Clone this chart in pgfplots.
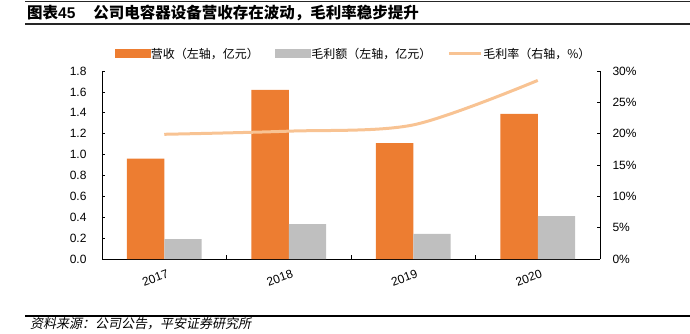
\documentclass[border=0pt]{standalone}
\usepackage{fontspec}
\setmainfont{Liberation Sans}
\newfontfamily\cjk{Noto Sans CJK SC}
\newfontfamily\cjkit[FakeSlant=0.2]{Noto Sans CJK SC}
\usepackage{pgfplots}
\pgfplotsset{compat=1.18}
\definecolor{cOr}{HTML}{ED7D31}
\definecolor{cGr}{HTML}{BFBFBF}
\definecolor{cLn}{HTML}{F8C393}
\begin{document}
\begin{tikzpicture}
\useasboundingbox (0pt,0pt) rectangle (690pt,333pt);
\draw[line width=0.9pt, black!85] (25pt,331.3pt) -- (690pt,331.3pt);
\draw[line width=1.4pt, black!85] (25pt,309pt) -- (690pt,309pt);
\node[anchor=west,inner sep=0pt] at (27pt,320pt) {\fontsize{15.5}{17}\selectfont{\cjk\bfseries 图表}{\bfseries 45}\hspace{18pt}{\cjk\bfseries 公司电容器设备营收存在波动，毛利率稳步提升}};
\draw[line width=1.2pt] (25pt,17pt) -- (690pt,17pt);
\node[anchor=west,inner sep=0pt] at (30pt,9pt) {\fontsize{13}{15}\selectfont\cjkit 资料来源：公司公告，平安证券研究所};

\begin{axis}[at={(102pt,74pt)}, anchor=south west, scale only axis,
  width=498pt, height=188pt,
  xmin=-0.5, xmax=3.5, ymin=0, ymax=1.8,
  axis x line*=bottom, axis y line*=left,
  axis line style={black, line width=0.7pt},
  xtick={0,1,2,3}, xticklabels={2017,2018,2019,2020},
  major x tick style={draw=none},
  minor xtick={0.5,1.5,2.5}, minor tick length=4pt,
  minor x tick style={black, line width=0.6pt},
  xticklabel style={rotate=20, anchor=north east, font=\fontsize{12}{14}\selectfont, xshift=2pt, yshift=-7pt},
  ytick={0,0.2,...,1.8}, major tick length=3pt, tick align=inside,
  y tick style={black, line width=0.6pt},
  yticklabel style={/pgf/number format/.cd, fixed, fixed zerofill, precision=1, /tikz/.cd, font=\fontsize{12}{14}\selectfont, xshift=-12pt},
  /pgf/number format/assume math mode=true,
  clip=false,
]
\addplot[ybar, bar width=0.3, bar shift=-0.15, fill=cOr, draw=none] coordinates {(0,0.96) (1,1.62) (2,1.11) (3,1.39)};
\addplot[ybar, bar width=0.3, bar shift=0.15, fill=cGr, draw=none] coordinates {(0,0.19) (1,0.335) (2,0.24) (3,0.41)};
\end{axis}

\begin{axis}[at={(102pt,74pt)}, anchor=south west, scale only axis,
  width=498pt, height=188pt,
  xmin=-0.5, xmax=3.5, ymin=0, ymax=30,
  axis x line=none, axis y line*=right, xtick=\empty,
  axis line style={black, line width=0.7pt},
  ytick={0,5,...,30}, major tick length=3pt, tick align=inside,
  y tick style={black, line width=0.6pt},
  yticklabel={\pgfmathprintnumber{\tick}\%},
  yticklabel style={font=\fontsize{12}{14}\selectfont, xshift=9pt},
  /pgf/number format/assume math mode=true,
  clip=false,
  legend style={at={(0.5,1)}, anchor=south, xshift=2pt, yshift=7pt, draw=none, fill=none,
    legend columns=3, font=\fontsize{12}{14}\selectfont\cjk,
    nodes={inner xsep=1pt},
    /tikz/every even column/.append style={column sep=15pt},
    legend cell align=left},
]
\addlegendimage{legend image code/.code={\fill[cOr] (0pt,-3.5pt) rectangle (35pt,4.5pt);}}
\addlegendentry{营收（左轴，亿元）}
\addlegendimage{legend image code/.code={\fill[cGr] (0pt,-3.5pt) rectangle (35pt,4.5pt);}}
\addlegendentry{毛利额（左轴，亿元）}
\addlegendimage{legend image code/.code={\draw[cLn,line width=3pt] (0pt,0.5pt) -- (32pt,0.5pt);}}
\addlegendentry{毛利率（右轴，\%）}
\addplot[smooth, cLn, line width=3pt, forget plot] coordinates {(0,19.9) (1,20.4) (2,21.4) (3,28.5)};
\end{axis}
\end{tikzpicture}
\end{document}
